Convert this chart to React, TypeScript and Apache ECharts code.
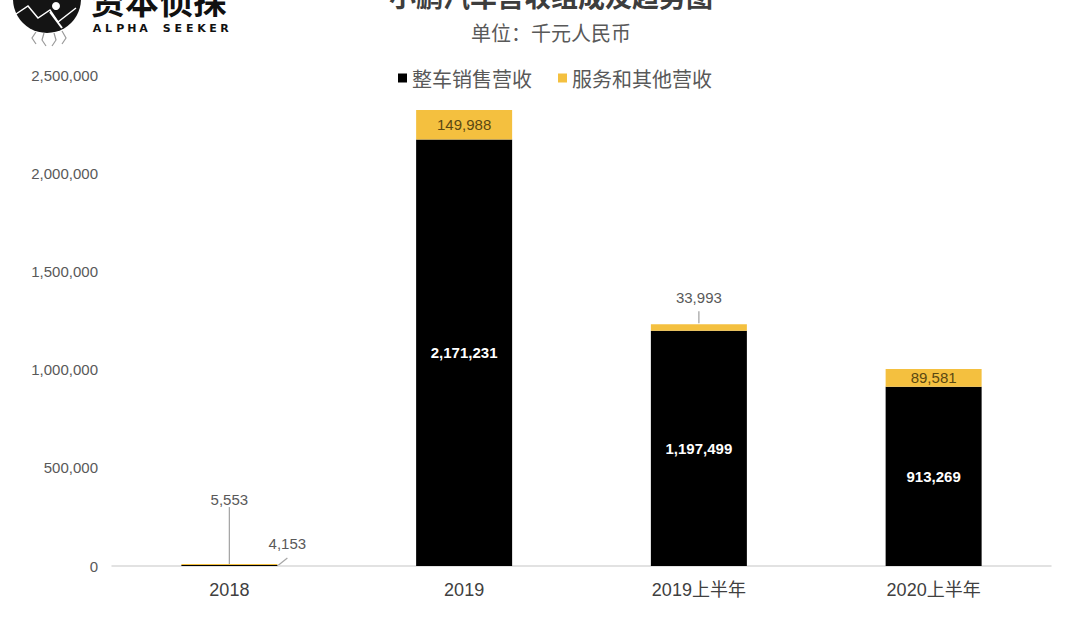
import React, { useEffect, useRef } from "react";
import * as echarts from "echarts";

const categories = ["2018", "2019", "2019上半年", "2020上半年"];
const vehicleSales = [5553, 2171231, 1197499, 913269];
const servicesOther = [4153, 149988, 33993, 89581];
const yMax = 2500000;
const yStep = 500000;

const seriesNames = ["整车销售营收", "服务和其他营收"];
const titleText = "小鹏汽车营收组成及趋势图";
const subtitleText = "单位：千元人民币";
const logoText = "资本侦探";
const logoSub = "ALPHA SEEKER";

const fmt = (v: number) => Number(v).toLocaleString("en-US");

const BLACK = "#000000";
const YELLOW = "#F4C03F";
const GRAY = "#595959";

export default function App() {
  const ref = useRef<HTMLDivElement>(null);

  useEffect(() => {
    document.body.style.margin = "0";
    if (!ref.current) return;
    const chart = echarts.init(ref.current, null, { renderer: "svg" });

    const numFont = "Liberation Sans";

    const blackData = vehicleSales.map((v, i) => {
      if (i === 0) {
        return {
          value: v,
          label: { show: true, position: "top", distance: 58, color: GRAY, fontSize: 15 },
        };
      }
      return {
        value: v,
        label: { show: true, position: "inside", color: "#ffffff", fontSize: 15, fontWeight: "bold" },
      };
    });

    const yellowData = servicesOther.map((v, i) => {
      if (i === 0) {
        return {
          value: v,
          label: { show: true, position: "top", distance: 5, offset: [58, -8], color: GRAY, fontSize: 15 },
        };
      }
      if (i === 2) {
        return {
          value: v,
          label: { show: true, position: "top", distance: 19, color: GRAY, fontSize: 15 },
        };
      }
      return {
        value: v,
        label: { show: true, position: "inside", color: "#5a4812", fontSize: 15 },
      };
    });

    const option: any = {
      animation: false,
      backgroundColor: "#ffffff",
      textStyle: { fontFamily: "Noto Sans CJK SC" },
      grid: { left: 112, right: 29, top: 75, bottom: 53, containLabel: false },
      legend: {
        top: 63,
        left: 393,
        itemWidth: 9,
        itemHeight: 9,
        itemGap: 26,
        icon: "rect",
        textStyle: { fontSize: 20, color: GRAY, fontFamily: "Noto Sans CJK SC" },
        data: seriesNames,
      },
      xAxis: {
        type: "category",
        data: categories,
        axisLine: { show: true, lineStyle: { color: "#d9d9d9", width: 1.5 } },
        axisTick: { show: false },
        axisLabel: {
          color: "#404040",
          fontSize: 18,
          margin: 15,
          fontFamily: "Liberation Sans, Noto Sans CJK SC",
        },
      },
      yAxis: {
        type: "value",
        min: 0,
        max: yMax,
        interval: yStep,
        axisLine: { show: false },
        axisTick: { show: false },
        splitLine: { show: false },
        axisLabel: {
          color: GRAY,
          fontSize: 15,
          margin: 14,
          fontFamily: numFont,
          formatter: (v: number) => fmt(v),
        },
      },
      series: [
        {
          name: seriesNames[0],
          type: "bar",
          stack: "rev",
          barWidth: 96,
          itemStyle: { color: BLACK },
          label: {
            fontFamily: numFont,
            formatter: (p: any) => fmt(p.value),
          },
          data: blackData,
        },
        {
          name: seriesNames[1],
          type: "bar",
          stack: "rev",
          barWidth: 96,
          itemStyle: { color: YELLOW },
          label: {
            fontFamily: numFont,
            formatter: (p: any) => fmt(p.value),
          },
          data: yellowData,
        },
      ],
      graphic: [],
    };

    chart.setOption(option);

    const px = (idx: number, val: number) =>
      chart.convertToPixel({ xAxisIndex: 0, yAxisIndex: 0 }, [idx, val]) as number[];

    const base0 = px(0, 0);
    const top0 = px(0, vehicleSales[0] + servicesOther[0]);
    const top2 = px(2, vehicleSales[2] + servicesOther[2]);
    const lineStyle = { stroke: "#a6a6a6", lineWidth: 1.3 };

    const subLetters = logoSub.split("").map((ch, i) => ({
      type: "text",
      x: 97 + i * 11.6,
      y: 28,
      style: {
        text: ch,
        fontSize: 11,
        fontWeight: "bold",
        fill: "#111111",
        fontFamily: "DejaVu Sans",
        align: "center",
        verticalAlign: "middle",
      },
    }));

    const graphics: any[] = [
      // title & subtitle
      {
        type: "text",
        x: 551,
        y: -5,
        style: {
          text: titleText,
          fontSize: 27,
          fontWeight: "bold",
          fill: "#3d3d3d",
          fontFamily: "Noto Sans CJK SC",
          align: "center",
          verticalAlign: "middle",
        },
      },
      {
        type: "text",
        x: 551,
        y: 32,
        style: {
          text: subtitleText,
          fontSize: 20,
          fill: GRAY,
          fontFamily: "Noto Sans CJK SC",
          align: "center",
          verticalAlign: "middle",
        },
      },
      // logo
      { type: "circle", shape: { cx: 47, cy: -1, r: 34 }, style: { fill: "#141414" } },
      {
        type: "polyline",
        shape: { points: [[16, 14], [28, 6], [38, 18], [50, 10], [58, 22], [76, 8]] },
        style: { stroke: "#ffffff", lineWidth: 1.5, fill: "none" },
      },
      { type: "circle", shape: { cx: 56, cy: 6, r: 4 }, style: { fill: "#ffffff" } },
      {
        type: "polyline",
        shape: { points: [[50, 12], [56, 20], [62, 28]] },
        style: { stroke: "#ffffff", lineWidth: 2, fill: "none" },
      },
      {
        type: "polyline",
        shape: { points: [[36, 32], [32, 38], [36, 44]] },
        style: { stroke: "#9a9a9a", lineWidth: 1.2, fill: "none" },
      },
      {
        type: "polyline",
        shape: { points: [[44, 33], [42, 40], [46, 46]] },
        style: { stroke: "#9a9a9a", lineWidth: 1.2, fill: "none" },
      },
      {
        type: "polyline",
        shape: { points: [[54, 33], [56, 40], [52, 46]] },
        style: { stroke: "#9a9a9a", lineWidth: 1.2, fill: "none" },
      },
      {
        type: "polyline",
        shape: { points: [[62, 31], [66, 38], [62, 44]] },
        style: { stroke: "#9a9a9a", lineWidth: 1.2, fill: "none" },
      },
      {
        type: "text",
        x: 91,
        y: -1,
        style: {
          text: logoText,
          fontSize: 34,
          fontWeight: "bold",
          fill: "#111111",
          fontFamily: "Noto Sans CJK SC",
          align: "left",
          verticalAlign: "middle",
        },
      },
      ...subLetters,
      // leader lines
      {
        type: "line",
        shape: { x1: base0[0], y1: base0[1], x2: base0[0], y2: top0[1] - 57 },
        style: lineStyle,
      },
      {
        type: "line",
        shape: { x1: base0[0] + 48, y1: base0[1], x2: base0[0] + 58, y2: base0[1] - 8 },
        style: lineStyle,
      },
      {
        type: "line",
        shape: { x1: top2[0], y1: top2[1] - 1, x2: top2[0], y2: top2[1] - 13 },
        style: lineStyle,
      },
    ];

    chart.setOption({ graphic: graphics });

    return () => {
      chart.dispose();
    };
  }, []);

  return <div ref={ref} style={{ width: 1080, height: 619 }} />;
}
